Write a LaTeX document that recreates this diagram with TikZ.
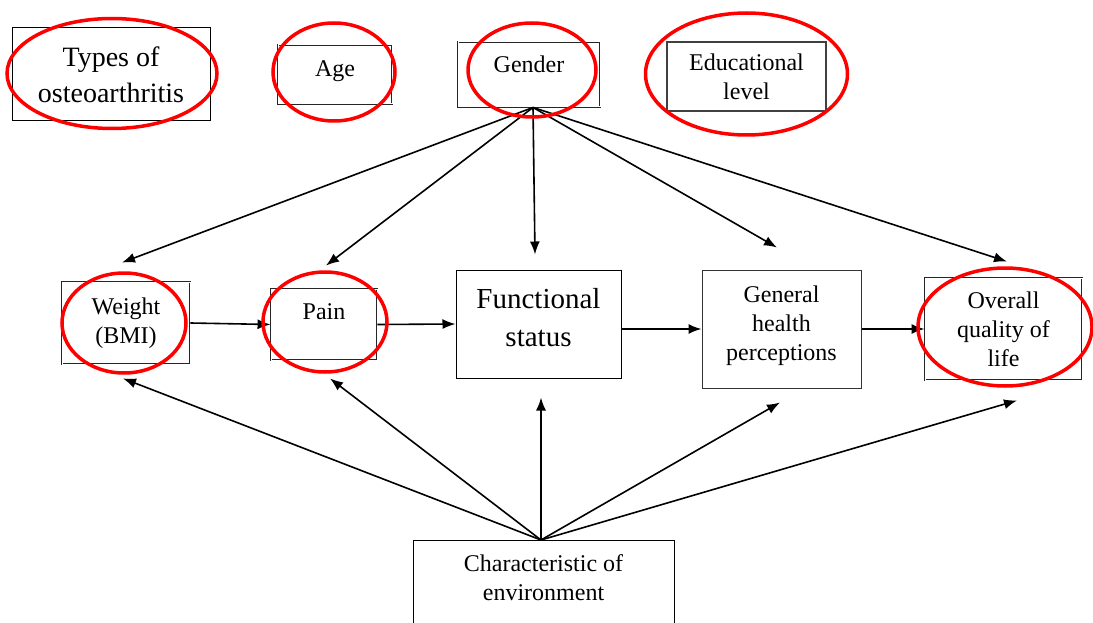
\documentclass[tikz,border=0pt]{standalone}
\usepackage{fontspec}
\setmainfont{Liberation Serif}
\usetikzlibrary{arrows.meta}
\begin{document}
\begin{tikzpicture}[x=1pt,y=-1pt,
    box/.style={draw, line width=1pt, inner sep=0pt, align=center,
      font=\fontsize{24}{29}\selectfont},
    dbox/.style={box, draw=black!85, double, double distance=1pt, line width=0.9pt},
    arr/.style={line width=1.6pt, -{Latex[length=13pt,width=10pt]}},
    circled/.style={draw=red, line width=3.5pt}]
  \useasboundingbox (0,0) rectangle (1093,623);
  \node[box, minimum width=198, minimum height=93,
    font=\fontsize{28}{36}\selectfont] (types) at (111,74.5) {Types of\\osteoarthritis};
  \node[dbox, minimum width=114, minimum height=59, text depth=12pt] (age) at (335,74.5) {Age};
  \node[dbox, minimum width=142, minimum height=65, text depth=20pt] (gender) at (529,74.5) {Gender};
  \node[box, draw=black!75, line width=1.6pt, minimum width=159, minimum height=69] (edu) at (746.5,76.5) {Educational\\level};
  \node[dbox, minimum width=128, minimum height=82] (weight) at (126,323) {Weight\\(BMI)};
  \node[dbox, minimum width=106, minimum height=71, text depth=25pt] (pain) at (324,324.5) {Pain};
  \node[box, minimum width=165, minimum height=108, text depth=13pt,
    font=\fontsize{29}{38}\selectfont] (func) at (538.5,324) {Functional\\status};
  \node[box, draw=black!80, minimum width=159, minimum height=118, text depth=12pt] (general) at (781.5,329) {General\\health\\perceptions};
  \node[dbox, minimum width=157, minimum height=102] (overall) at (1003.5,329) {Overall\\quality of\\life};
  \node[box, anchor=north, minimum width=261, minimum height=100, text depth=26pt] (env) at (543.5,540) {Characteristic of\\environment};
  \draw[arr] ([xshift=4]gender.south) -- ([shift={(-4,-19)}]weight.north);
  \draw[arr] ([xshift=4]gender.south) -- ([shift={(2,-23)}]pain.north);
  \draw[arr] ([xshift=4]gender.south) -- ([shift={(-3.5,-15)}]func.north);
  \draw[arr] ([xshift=4]gender.south) -- ([shift={(-4.5,-22)}]general.north);
  \draw[arr] ([xshift=4]gender.south) -- ([shift={(3.5,-16)}]overall.north);
  \draw[arr] ([xshift=-2.5]env.north) -- ([shift={(-3,14)}]weight.south);
  \draw[arr] ([xshift=-2.5]env.north) -- ([shift={(6,18)}]pain.south);
  \draw[arr] ([xshift=-2.5]env.north) -- ([shift={(2.5,19)}]func.south);
  \draw[arr] ([xshift=-2.5]env.north) -- ([shift={(-1.5,14)}]general.south);
  \draw[arr] ([xshift=-2.5]env.north) -- ([shift={(13.5,20)}]overall.south);
  \draw[arr] (weight.east) -- (pain.west);
  \draw[arr] (pain.east) -- (func.west);
  \draw[arr] ([shift={(0,5)}]func.east) -- (general.west);
  \draw[arr] (general.east) -- (overall.west);
  \draw[circled] (112,73.5) ellipse [x radius=105, y radius=55];
  \draw[circled] (334,72) ellipse [x radius=61, y radius=49];
  \draw[circled] (532,70) ellipse [x radius=64, y radius=47];
  \draw[circled] (746.5,74) ellipse [x radius=101, y radius=61];
  \draw[circled] (124,323) ellipse [x radius=62, y radius=50];
  \draw[circled] (325,322) ellipse [x radius=62, y radius=50];
  \draw[circled] (1005,327) ellipse [x radius=87, y radius=59];
\end{tikzpicture}
\end{document}
